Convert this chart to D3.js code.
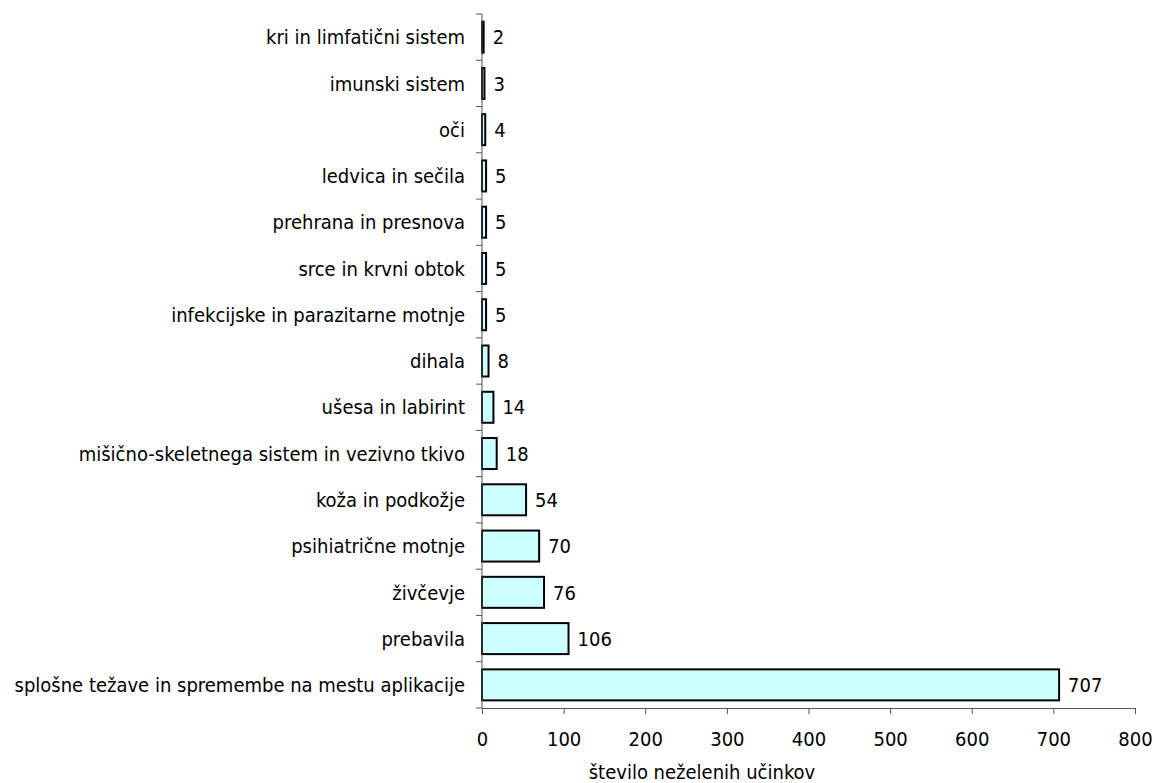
<!DOCTYPE html>
<html>
<head>
<meta charset="utf-8">
<script src="https://cdn.jsdelivr.net/npm/d3@7"></script>
<style>
  body { margin: 0; background: #fff; }
  text { font-family: "DejaVu Sans Condensed", "DejaVu Sans", sans-serif; }
</style>
</head>
<body>
<script>
// categories top to bottom
let categories = [
  'kri in limfatični sistem',
  'imunski sistem',
  'oči',
  'ledvica in sečila',
  'prehrana in presnova',
  'srce in krvni obtok',
  'infekcijske in parazitarne motnje',
  'dihala',
  'ušesa in labirint',
  'mišično-skeletnega sistem in vezivno tkivo',
  'koža in podkožje',
  'psihiatrične motnje',
  'živčevje',
  'prebavila',
  'splošne težave in spremembe na mestu aplikacije'
];
let values = [2, 3, 4, 5, 5, 5, 5, 8, 14, 18, 54, 70, 76, 106, 707];
let xTicks = [0, 100, 200, 300, 400, 500, 600, 700, 800];
let xTitle = 'število neželenih učinkov';

let width = 1154, height = 783;
let margin = { top: 14, bottom: 75, left: 482, right: 19 };
let fs = 20;

let svg = d3.select('body')
  .append('svg')
  .attr('width', width)
  .attr('height', height);

let xScale = d3.scaleLinear()
  .domain([0, 800])
  .range([margin.left, width - margin.right]);

let yScale = d3.scaleBand()
  .domain(categories)
  .range([margin.top, height - margin.bottom])
  .paddingInner(0.33)
  .paddingOuter(0.165);

// bars
svg.selectAll('rect.bar')
  .data(values)
  .enter()
  .append('rect')
  .attr('class', 'bar')
  .attr('x', xScale(0))
  .attr('y', (d, i) => yScale(categories[i]))
  .attr('width', d => xScale(d) - xScale(0))
  .attr('height', yScale.bandwidth())
  .attr('fill', '#ccffff')
  .attr('stroke', '#000')
  .attr('stroke-width', 2);

// value labels
svg.selectAll('text.val')
  .data(values)
  .enter()
  .append('text')
  .attr('class', 'val')
  .attr('x', d => xScale(d) + 9)
  .attr('y', (d, i) => yScale(categories[i]) + yScale.bandwidth() / 2)
  .attr('dy', '0.36em')
  .attr('font-size', fs)
  .text(d => d);

// y axis: line + boundary ticks
let yAxis = svg.append('g');
yAxis.append('line')
  .attr('x1', xScale(0)).attr('x2', xScale(0))
  .attr('y1', margin.top).attr('y2', height - margin.bottom)
  .attr('stroke', '#555');
let step = yScale.step();
let bounds = d3.range(categories.length + 1).map(i => margin.top + i * step);
yAxis.selectAll('line.tk')
  .data(bounds)
  .enter()
  .append('line')
  .attr('class', 'tk')
  .attr('x1', xScale(0) - 6).attr('x2', xScale(0))
  .attr('y1', d => d).attr('y2', d => d)
  .attr('stroke', '#555');
yAxis.selectAll('text')
  .data(categories)
  .enter()
  .append('text')
  .attr('x', xScale(0) - 17)
  .attr('y', d => yScale(d) + yScale.bandwidth() / 2)
  .attr('dy', '0.36em')
  .attr('text-anchor', 'end')
  .attr('font-size', fs)
  .text(d => d);

// x axis
let xAxis = svg.append('g')
  .attr('transform', `translate(0, ${height - margin.bottom})`)
  .call(d3.axisBottom(xScale).tickValues(xTicks).tickSize(6).tickSizeOuter(0));
xAxis.select('.domain').attr('stroke', '#555');
xAxis.selectAll('.tick line').attr('stroke', '#555');
xAxis.selectAll('.tick text')
  .attr('font-family', '"DejaVu Sans Condensed", "DejaVu Sans", sans-serif')
  .attr('font-size', fs)
  .attr('fill', '#000')
  .attr('y', 24);

svg.append('text')
  .attr('x', 702)
  .attr('y', 779)
  .attr('text-anchor', 'middle')
  .attr('font-size', fs)
  .text(xTitle);
</script>
</body>
</html>
